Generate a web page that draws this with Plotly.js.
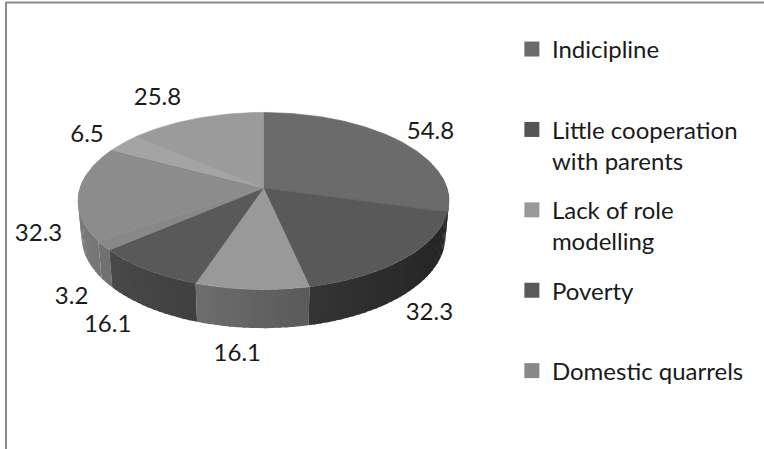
<!DOCTYPE html>
<html>
<head>
<meta charset="utf-8">
<script src="https://cdn.plot.ly/plotly-3.0.1.min.js"></script>
<style>
  html, body { margin: 0; padding: 0; background: #ffffff; }
  #chart { width: 764px; height: 449px; }
</style>
</head>
<body>
<div id="chart"></div>
<script>
// Causes of pupil misbehaviour (%), one slice per category, clockwise from 12 o'clock
const categories = [
  'Indicipline',
  'Little cooperation with parents',
  'Lack of role modelling',
  'Poverty',
  'Domestic quarrels',
  'Category 6',
  'Category 7',
  'Category 8'
];
const values = [54.8, 32.3, 16.1, 16.1, 3.2, 32.3, 6.5, 25.8];
const legendCount = 5;   // only the first five entries fit in the legend box

// Styling
const topColors = ['#6b6b6b', '#595959', '#999999', '#595959', '#888888', '#8c8c8c', '#a4a4a4', '#9b9b9b'];
const legendColors = ['#6b6b6b', '#555555', '#999999', '#5a5a5a', '#888888'];
const labelNudge = [[10, -15], [-6, 20], [-12, 21], [-13, 18], [2, 20], [-5, 23], [-12, -15], [-27, -24]];
const FONT = 'Lato, "Liberation Sans", Arial, sans-serif';
const TEXT = '#1a1a1a';

// Perspective view of a flat cylinder (the 3-D pie)
const TILT = 30 * Math.PI / 180, CAM = 6, THICK = 0.22, SCALE = 180.1, CX = 263.5, CY = 222.9;
function project(theta, r, H) {
  const X = r * Math.sin(theta), Yd = -r * Math.cos(theta);
  const c = Math.cos(TILT), s = Math.sin(TILT);
  const u = H * c - Yd * s, w = Yd * c + H * s;
  const k = CAM / (CAM - w);
  return [CX + SCALE * X * k, CY - SCALE * u * k];
}

function shade(hex, f) {
  const n = parseInt(hex.slice(1), 16);
  const ch = [(n >> 16) & 255, (n >> 8) & 255, n & 255].map(v => Math.max(0, Math.min(255, Math.round(v * f))));
  return 'rgb(' + ch.join(',') + ')';
}

function wrap(label, width) {
  const words = label.split(' ');
  const lines = [];
  let cur = '';
  words.forEach(wd => {
    if (cur && (cur + ' ' + wd).length > width) { lines.push(cur); cur = wd; }
    else cur = cur ? cur + ' ' + wd : wd;
  });
  lines.push(cur);
  return lines;
}

const total = values.reduce((a, b) => a + b, 0);
const starts = [], ends = [];
let acc = 0;
values.forEach(v => {
  starts.push(acc / total * 2 * Math.PI);
  acc += v;
  ends.push(acc / total * 2 * Math.PI);
});

function polyTrace(pts, color, lineWidth) {
  const xs = pts.map(p => p[0]), ys = pts.map(p => p[1]);
  xs.push(xs[0]); ys.push(ys[0]);
  return {
    type: 'scatter', mode: 'lines', x: xs, y: ys,
    fill: 'toself', fillcolor: color,
    line: { color: color, width: lineWidth },
    hoverinfo: 'skip', showlegend: false
  };
}

const traces = [];

// Outer walls, split into thin bands so the light falls off from left to right;
// each band reaches slightly into its neighbour so no seams show
const STEP = 2 * Math.PI / 180;
const OVER = 0.6 * Math.PI / 180;
const bands = [];
values.forEach((v, i) => {
  const n = Math.max(1, Math.ceil((ends[i] - starts[i]) / STEP));
  for (let j = 0; j < n; j++) {
    const t0 = starts[i] + (ends[i] - starts[i]) * j / n;
    const t1 = starts[i] + (ends[i] - starts[i]) * (j + 1) / n;
    const tm = (t0 + t1) / 2;
    if (Math.cos(tm) > 0.15) continue;     // back side is hidden by the top face
    const t1x = (j < n - 1) ? t1 + OVER : t1;
    const f = 0.64 - 0.24 * Math.sin(tm);
    bands.push({
      order: tm,
      pts: [project(t0, 1, THICK), project((t0 + t1x) / 2, 1, THICK), project(t1x, 1, THICK),
            project(t1x, 1, 0), project((t0 + t1x) / 2, 1, 0), project(t0, 1, 0)],
      color: shade(topColors[i], f)
    });
  }
});
// paint right-to-left so each band's overlap is covered by the next one
bands.sort((a, b) => b.order - a.order);
bands.forEach(b => traces.push(polyTrace(b.pts, b.color, 0)));

// Top faces
values.forEach((v, i) => {
  const pts = [project(0, 0, THICK)];
  const n = Math.max(2, Math.ceil((ends[i] - starts[i]) / (Math.PI / 180)));
  for (let j = 0; j <= n; j++) {
    pts.push(project(starts[i] + (ends[i] - starts[i]) * j / n, 1, THICK));
  }
  traces.push(polyTrace(pts, topColors[i], 0.6));
});

// Value labels outside each slice
const lx = [], ly = [], lt = [];
values.forEach((v, i) => {
  const mid = (starts[i] + ends[i]) / 2;
  const p = project(mid, 1.2, THICK / 2);
  lx.push(p[0] + labelNudge[i][0]);
  ly.push(p[1] + labelNudge[i][1]);
  lt.push(v.toFixed(1));
});
traces.push({
  type: 'scatter', mode: 'text', x: lx, y: ly, text: lt,
  textposition: 'middle center',
  textfont: { family: FONT, size: 24, color: TEXT },
  hoverinfo: 'skip', showlegend: false
});

// Legend entries
for (let i = 0; i < legendCount; i++) {
  const lines = wrap(categories[i], 18);
  if (lines.length < 2) lines.push('\u00a0');
  traces.push({
    type: 'scatter', mode: 'markers', x: [null], y: [null],
    name: lines.join('<br>'),
    legendgroup: 'g' + i,
    marker: { symbol: 'square', size: 15, color: legendColors[i] },
    showlegend: true, hoverinfo: 'skip'
  });
}

const layout = {
  width: 764, height: 449,
  margin: { l: 0, r: 0, t: 0, b: 0 },
  paper_bgcolor: '#ffffff', plot_bgcolor: '#ffffff',
  xaxis: { range: [0, 764], visible: false, fixedrange: true },
  yaxis: { range: [449, 0], visible: false, fixedrange: true },
  showlegend: true,
  legend: {
    x: 0.670, y: 0.94, xanchor: 'left', yanchor: 'top',
    font: { family: FONT, size: 24, color: TEXT },
    valign: 'top', tracegroupgap: 15,
    bgcolor: 'rgba(0,0,0,0)', borderwidth: 0
  },
  shapes: [
    { type: 'line', xref: 'x', yref: 'y', x0: 6, x1: 764, y0: 2.5, y1: 2.5, line: { color: '#8c8c8c', width: 2 } },
    { type: 'line', xref: 'x', yref: 'y', x0: 6, x1: 6, y0: 2, y1: 449, line: { color: '#8c8c8c', width: 2 } }
  ]
};

Plotly.newPlot('chart', traces, layout, { displayModeBar: false, staticPlot: true });
</script>
</body>
</html>
